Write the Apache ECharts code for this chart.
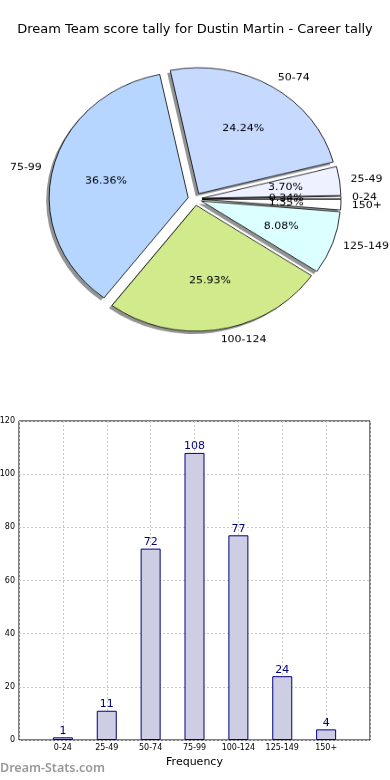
<!DOCTYPE html>
<html><head><meta charset="utf-8">
<script src="https://cdn.jsdelivr.net/npm/echarts@6/dist/echarts.min.js"></script>
<style>
html,body{margin:0;padding:0;background:#fff}
#wrap{position:relative;width:390px;height:780px}
#c{position:absolute;left:0;top:0;width:390px;height:780px}
#p{position:absolute;left:0;top:0;width:390px;height:400px;transform:scaleY(0.906);transform-origin:195px 199px}
</style>
</head><body><div id="wrap"><div id="c"></div><div id="p"></div></div>
<script>
var categories = ['0-24','25-49','50-74','75-99','100-124','125-149','150+'];
var counts = [1, 11, 72, 108, 77, 24, 4];
var yTicks = [0, 20, 40, 60, 80, 100, 120];
var sliceColors = ['#ffffff','#eef1ff','#c6d9ff','#b6d6ff','#d0ea8c','#dcffff','#ffffff'];
var titleText = 'Dream Team score tally for Dustin Martin - Career tally';
var xName = 'Frequency';
var watermark = 'Dream-Stats.com';

var FONT = 'DejaVu Sans';
var R = 139, OFF = 7, CX = 195, CY = 199, SH = 3;
var total = counts.reduce(function(a,b){return a+b;}, 0);
function mk(extra){
  return categories.map(function(c, i){
    var d = {name: c, value: counts[i], selected: true};
    if (extra) d.itemStyle = {color: sliceColors[i]};
    return d;
  });
}

var chart = echarts.init(document.getElementById('c'), null, {renderer: 'canvas'});
chart.setOption({
  animation: false,
  title: [{
    text: titleText, left: 'center', top: 23, padding: 0,
    textStyle: {fontFamily: FONT, fontSize: 13, fontWeight: 'normal', color: '#000'}
  },{
    text: watermark, left: 0, top: 762, padding: 0,
    textStyle: {fontFamily: 'Noto Sans', fontSize: 12.5, fontWeight: 600, color: '#999'}
  }],
  grid: {left: 19, right: 20, top: 421, bottom: 40, show: true, borderColor: '#000', borderWidth: 1,
    containLabel: false, outerBoundsMode: 'none'},
  xAxis: {
    type: 'value', min: -1, max: 7, interval: 1,
    name: xName, nameLocation: 'middle', nameGap: 17,
    nameTextStyle: {fontFamily: FONT, fontSize: 11, color: '#000'},
    axisLine: {show: false}, axisTick: {show: false},
    axisLabel: {fontFamily: FONT, fontSize: 8, color: '#000', margin: 4,
      formatter: function(v){ return categories[v] !== undefined ? categories[v] : ''; }},
    splitLine: {show: true, lineStyle: {color: '#c8c8c8', type: [2, 2], width: 1}}
  },
  yAxis: {
    type: 'value', min: yTicks[0], max: yTicks[yTicks.length-1], interval: 20,
    axisLine: {show: false}, axisTick: {show: false},
    axisLabel: {fontFamily: FONT, fontSize: 8, color: '#000', margin: 4},
    splitLine: {show: true, lineStyle: {color: '#c8c8c8', type: [2, 2], width: 1}}
  },
  series: [{
    type: 'bar', barWidth: 20,
    itemStyle: {color: '#cdcde4', borderColor: '#000080', borderWidth: 1},
    label: {show: true, position: 'top', distance: 1, fontFamily: FONT, fontSize: 11, color: '#000080'},
    data: counts.map(function(v, i){ return [i, v]; })
  }]
});

var common = {
  type: 'pie', selectedMode: 'multiple', selectedOffset: OFF, startAngle: 0, clockwise: false,
  avoidLabelOverlap: false, silent: true, minShowLabelAngle: 0,
  labelLayout: {hideOverlap: false}, emphasis: {disabled: true}
};
var pie = echarts.init(document.getElementById('p'), null, {renderer: 'canvas'});
pie.setOption({
  animation: false,
  series: [
    Object.assign({}, common, {
      center: [CX - SH, CY + SH], radius: [0, R], z: 1,
      itemStyle: {color: 'rgba(0,0,0,0.42)', borderWidth: 0},
      label: {show: false}, labelLine: {show: false},
      data: mk(false)
    }),
    Object.assign({}, common, {
      center: [CX, CY], radius: [0, R], z: 2,
      itemStyle: {borderColor: '#000', borderWidth: 0.8},
      label: {show: true, position: 'outside', fontFamily: FONT, fontSize: 11, color: '#000',
        formatter: '{b}', distanceToLabelLine: 0},
      labelLine: {show: false, length: 11, length2: 0},
      data: mk(true)
    }),
    Object.assign({}, common, {
      center: [CX, CY], radius: [R*0.17, R], z: 5,
      itemStyle: {color: 'rgba(0,0,0,0)', borderWidth: 0},
      label: {show: true, position: 'inner', fontFamily: FONT, fontSize: 11, color: '#000',
        formatter: function(p){ return (p.value/total*100).toFixed(2) + '%'; }},
      labelLine: {show: false},
      data: mk(false)
    })
  ]
});
</script></body></html>
